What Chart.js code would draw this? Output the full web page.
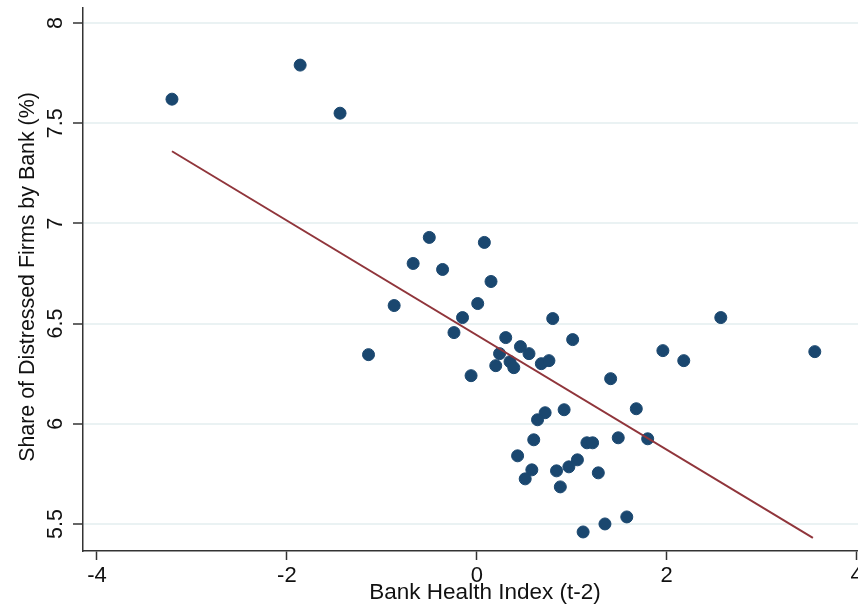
<!DOCTYPE html>
<html>
<head>
<meta charset="utf-8">
<script src="https://cdn.jsdelivr.net/npm/chart.js@4/dist/chart.umd.min.js"></script>
<style>
  html, body { margin: 0; padding: 0; background: #fff; overflow: hidden; }
  #wrap { width: 858px; height: 609px; }
</style>
</head>
<body>
<div id="wrap"><canvas id="myChart"></canvas></div>
<script>
const healthIndex = [-3.21, -1.86, -1.44, -1.14, -0.87, -0.67, -0.50, -0.36, -0.24, -0.15,
    -0.06, 0.01, 0.08, 0.15, 0.20, 0.24, 0.305, 0.35, 0.39, 0.46,
    0.55, 0.68, 0.76, 0.80, 1.01, 1.41, 1.68, 0.72, 0.64, 0.92,
    0.60, 1.16, 1.22, 1.49, 1.80, 0.43, 1.06, 0.97, 0.84, 0.58,
    1.28, 0.51, 0.88, 1.58, 1.35, 1.12, 2.57, 1.96, 2.18, 3.56];
const distressShare = [7.62, 7.79, 7.55, 6.345, 6.59, 6.80, 6.93, 6.77, 6.455, 6.53,
    6.24, 6.60, 6.905, 6.71, 6.29, 6.35, 6.43, 6.31, 6.28, 6.385,
    6.35, 6.30, 6.315, 6.525, 6.42, 6.225, 6.075, 6.055, 6.02, 6.07,
    5.92, 5.905, 5.905, 5.93, 5.925, 5.84, 5.82, 5.785, 5.765, 5.77,
    5.755, 5.725, 5.685, 5.535, 5.50, 5.46, 6.53, 6.365, 6.315, 6.36];
const fitX = [-3.21, 3.54];
const fitY = [7.36, 5.43];
const xTicks = [-4, -2, 0, 2, 4];
const yTicks = [5.5, 6, 6.5, 7, 7.5, 8];
const xTitle = 'Bank Health Index (t-2)';
const yTitle = 'Share of Distressed Firms by Bank (%)';

const fam = "'Liberation Sans', Arial, sans-serif";

// tick labels and axis titles drawn by hand (Stata style, y labels turned)
const axisText = {
    id: 'axisText',
    afterDraw(chart) {
        const c = chart.ctx;
        const xs = chart.scales.x, ys = chart.scales.y;
        c.save();
        c.fillStyle = '#111';
        c.font = '22px ' + fam;
        c.textAlign = 'center';
        c.textBaseline = 'alphabetic';
        xTicks.forEach(v => c.fillText(String(v), xs.getPixelForValue(v), 582));
        c.font = '22.5px ' + fam;
        c.fillText(xTitle, 485, 599);

        c.font = '21.5px ' + fam;
        yTicks.forEach(v => {
            c.save();
            c.translate(62, ys.getPixelForValue(v));
            c.rotate(-Math.PI / 2);
            c.fillText(String(v), 0, 0);
            c.restore();
        });
        c.font = '21.4px ' + fam;
        c.translate(33.5, 277);
        c.rotate(-Math.PI / 2);
        c.fillText(yTitle, 0, 0);
        c.restore();
    }
};

const ctx = document.getElementById('myChart').getContext('2d');

const myChart = new Chart(ctx, {
    type: 'scatter',
    data: {
        datasets: [{
            label: 'Fitted values',
            type: 'line',
            data: fitX.map((x, i) => ({ x: x, y: fitY[i] })),
            borderColor: '#90353b',
            borderWidth: 2,
            pointRadius: 0,
            order: 0
        },
        {
            label: 'Share',
            data: healthIndex.map((x, i) => ({ x: x, y: distressShare[i] })),
            backgroundColor: '#1a476f',
            borderColor: '#1a476f',
            pointRadius: 6,
            order: 1
        }]
    },
    plugins: [axisText],
    options: {
        responsive: true,
        maintainAspectRatio: false,
        animation: false,
        layout: { autoPadding: false, padding: { top: 8, right: 0, left: 0, bottom: 0 } },
        plugins: { legend: { display: false }, tooltip: { enabled: false } },
        scales: {
            x: {
                type: 'linear',
                min: -4.147,
                max: 4.015,
                afterBuildTicks: s => { s.ticks = xTicks.map(v => ({ value: v })); },
                afterFit: s => { s.height = 58; s.paddingLeft = 0; s.paddingRight = 0; },
                grid: { drawOnChartArea: false, drawTicks: true, tickLength: 9, tickColor: '#333', tickWidth: 1.5 },
                border: { color: '#333', width: 1.5 },
                ticks: { display: false },
                title: { display: false }
            },
            y: {
                min: 5.365,
                max: 8.075,
                afterBuildTicks: s => { s.ticks = yTicks.map(v => ({ value: v })); },
                afterFit: s => { s.width = 83; s.paddingTop = 0; s.paddingBottom = 0; },
                grid: { color: '#eaf2f3', lineWidth: 2, drawTicks: true, tickLength: 10, tickColor: '#333', tickWidth: 1.5 },
                border: { color: '#333', width: 1.5 },
                ticks: { display: false },
                title: { display: false }
            }
        }
    }
});
</script>
</body>
</html>
